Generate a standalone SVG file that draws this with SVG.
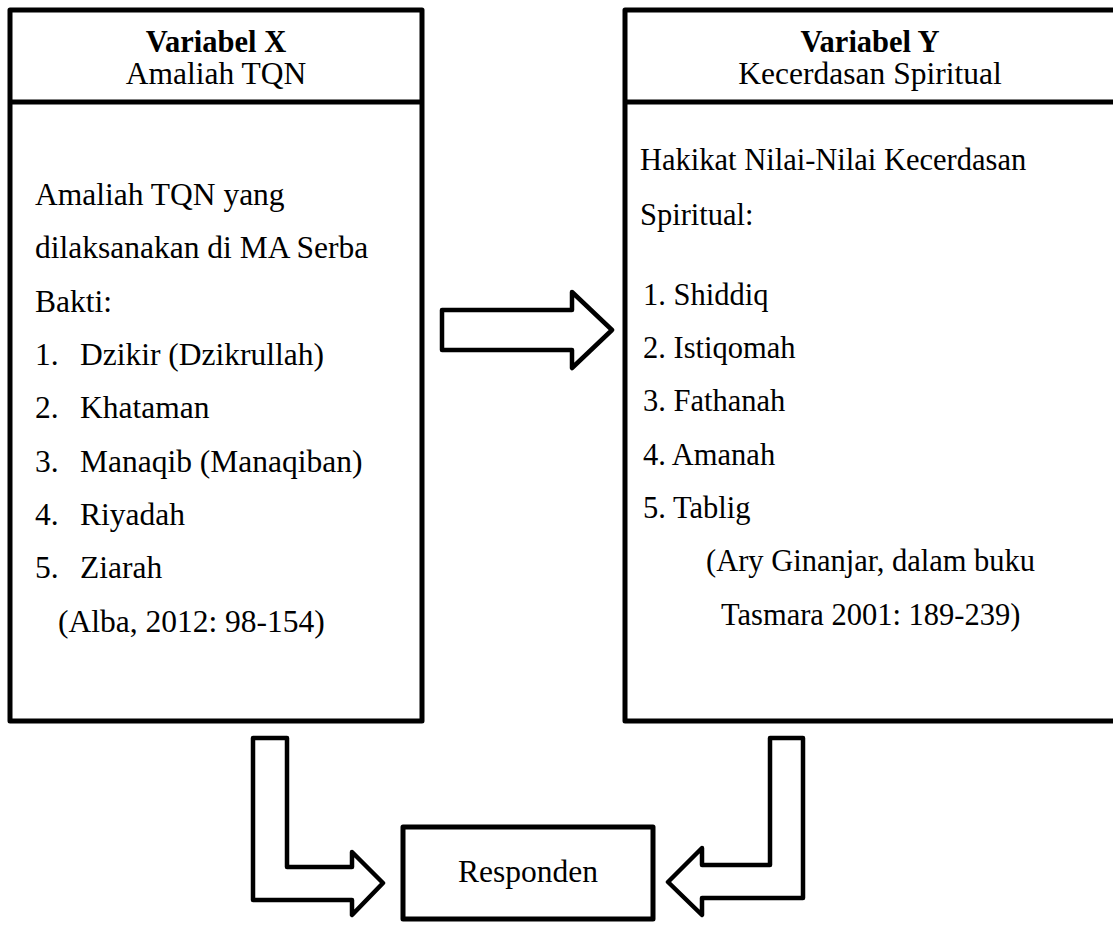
<svg xmlns="http://www.w3.org/2000/svg" width="1113" height="934" viewBox="0 0 1113 934" font-family="'Liberation Serif', 'Times New Roman', serif" font-size="31.5">
<style>
.box{fill:#fff;stroke:#000;stroke-width:5;stroke-linejoin:round}
.arr{fill:#fff;stroke:#000;stroke-width:4.5;stroke-linejoin:round}
.t{font-family:'Liberation Serif','Times New Roman',serif;font-size:31.5px;fill:#000}
.r{font-size:30.5px}
.b{font-weight:bold;font-size:30.5px}
.c{text-anchor:middle}
</style>
<rect width="1113" height="934" fill="#fff"/>
<g id="varX">
<rect class="box" x="10" y="10" width="412" height="711"/>
<line class="box" x1="10" y1="102" x2="422" y2="102"/>
<text class="t b c" x="216" y="52">Variabel X</text>
<text class="t c" x="216" y="84">Amaliah TQN</text>
<text class="t" x="35" y="205">Amaliah TQN yang</text>
<text class="t" x="35" y="258">dilaksanakan di MA Serba</text>
<text class="t" x="35" y="312">Bakti:</text>
<text class="t" x="35" y="365">1.</text><text class="t" x="80" y="365">Dzikir (Dzikrullah)</text>
<text class="t" x="35" y="418">2.</text><text class="t" x="80" y="418">Khataman</text>
<text class="t" x="35" y="472">3.</text><text class="t" x="80" y="472">Manaqib (Manaqiban)</text>
<text class="t" x="35" y="525">4.</text><text class="t" x="80" y="525">Riyadah</text>
<text class="t" x="35" y="578">5.</text><text class="t" x="80" y="578">Ziarah</text>
<text class="t" x="58" y="632">(Alba, 2012: 98-154)</text>
</g>
<g id="varY">
<rect class="box" x="625" y="10" width="491" height="711"/>
<line class="box" x1="625" y1="102" x2="1116" y2="102"/>
<text class="t b c" x="870" y="52">Variabel Y</text>
<text class="t c" x="870" y="84">Kecerdasan Spiritual</text>
<text class="t r" x="640" y="170">Hakikat Nilai-Nilai Kecerdasan</text>
<text class="t r" x="640" y="225">Spiritual:</text>
<text class="t r" x="643" y="305">1. Shiddiq</text>
<text class="t r" x="643" y="358">2. Istiqomah</text>
<text class="t r" x="643" y="411">3. Fathanah</text>
<text class="t r" x="643" y="465">4. Amanah</text>
<text class="t r" x="643" y="518">5. Tablig</text>
<text class="t r" x="706" y="571">(Ary Ginanjar, dalam buku</text>
<text class="t r" x="721" y="625">Tasmara 2001: 189-239)</text>
</g>
<g id="responden">
<rect class="box" x="403" y="827" width="250" height="92"/>
<text class="t c" x="528" y="882">Responden</text>
</g>
<g id="connectors">
<polygon class="arr" points="442,310 572,310 572,292 612,330 572,368 572,350 442,350"/>
<polygon class="arr" points="253,738 287,738 287,867 352,867 352,852 383,883 352,915 352,900 253,900"/>
<polygon class="arr" points="803,738 770,738 770,865 702,865 702,848 668,882 702,915 702,898 803,898"/>
</g>
</svg>
